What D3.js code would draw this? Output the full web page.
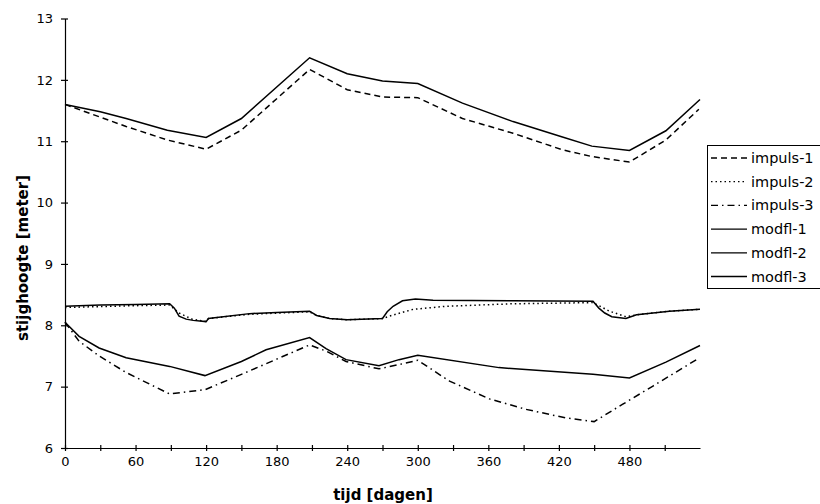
<!DOCTYPE html>
<html>
<head>
<meta charset="utf-8">
<script src="https://cdn.jsdelivr.net/npm/d3@7"></script>
<style>
  body { margin: 0; background: #fff; }
  svg { font-family: "DejaVu Sans", "Liberation Sans", sans-serif; }
  .axis text { font-size: 13px; fill: #000; font-family: "DejaVu Sans", sans-serif; }
  .axis line, .axis path { stroke: #000; stroke-width: 1.2; }
  .title { font-size: 15px; font-weight: bold; }
  .series { fill: none; stroke: #000; stroke-width: 1.5; }
</style>
</head>
<body>
<svg></svg>
<script>
// tick labels
var xTicks = [0, 30, 60, 90, 120, 150, 180, 210, 240, 270, 300, 330, 360, 390, 420, 450, 480, 510];
var yTicks = [6, 7, 8, 9, 10, 11, 12, 13];

// series (dagen / meter)
var impuls1Days = [0, 52, 87, 120, 150, 208, 240, 270, 300, 338, 381, 423, 448, 480, 511, 539];
var impuls1 = [11.60, 11.24, 11.02, 10.87, 11.18, 12.17, 11.84, 11.72, 11.71, 11.37, 11.13, 10.86, 10.75, 10.66, 11.02, 11.52];

var modfl1Days = [0, 30, 52, 87, 120, 150, 208, 240, 270, 300, 338, 381, 423, 448, 480, 511, 540];
var modfl1 = [11.60, 11.48, 11.37, 11.18, 11.06, 11.37, 12.36, 12.10, 11.98, 11.94, 11.62, 11.32, 11.07, 10.92, 10.85, 11.17, 11.68];

var impuls2Days = [0, 60, 89, 97, 108, 120, 122, 157, 208, 214, 225, 240, 270, 276, 296, 324, 380, 449, 463, 477, 486, 514, 540];
var impuls2 = [8.29, 8.32, 8.33, 8.20, 8.10, 8.06, 8.11, 8.18, 8.22, 8.16, 8.11, 8.09, 8.11, 8.15, 8.26, 8.31, 8.35, 8.37, 8.23, 8.14, 8.17, 8.23, 8.26];

var modfl2Days = [0, 30, 60, 89, 93, 97, 103, 109, 120, 122, 157, 180, 208, 214, 225, 240, 270, 274, 279, 287, 298, 313, 380, 449, 454, 459, 465, 477, 486, 514, 540];
var modfl2 = [8.31, 8.33, 8.34, 8.35, 8.28, 8.15, 8.10, 8.08, 8.06, 8.11, 8.19, 8.21, 8.23, 8.16, 8.11, 8.09, 8.11, 8.22, 8.31, 8.40, 8.43, 8.41, 8.40, 8.39, 8.28, 8.20, 8.14, 8.11, 8.17, 8.23, 8.26];

var impuls3Days = [0, 12, 29, 52, 89, 119, 150, 208, 222, 239, 267, 284, 300, 327, 361, 392, 426, 450, 474, 500, 537];
var impuls3 = [8.05, 7.74, 7.50, 7.23, 6.88, 6.95, 7.20, 7.68, 7.58, 7.41, 7.29, 7.36, 7.43, 7.09, 6.80, 6.63, 6.49, 6.43, 6.71, 7.01, 7.44];

var modfl3Days = [0, 12, 29, 52, 89, 119, 150, 171, 208, 222, 239, 267, 284, 300, 369, 449, 480, 511, 540];
var modfl3 = [8.05, 7.82, 7.63, 7.47, 7.33, 7.18, 7.41, 7.60, 7.80, 7.62, 7.44, 7.34, 7.44, 7.51, 7.31, 7.20, 7.14, 7.40, 7.67];

var seriesNames = ["impuls-1", "impuls-2", "impuls-3", "modfl-1", "modfl-2", "modfl-3"];
var dashes = ["6,4", "1.5,3", "7,4,1.5,4", null, null, null];

var margin = {top: 18.5, right: 120, bottom: 56, left: 65},
    width = 700 - margin.left,
    height = 448 - margin.top;

var x = d3.scaleLinear().domain([0, 540]).range([0, width]);
var y = d3.scaleLinear().domain([6, 13]).range([height, 0]);

var svg = d3.select("svg")
    .attr("width", 820)
    .attr("height", 504);

var g = svg.append("g")
    .attr("transform", "translate(" + margin.left + "," + margin.top + ")");

// X axis, ticks every 30 days, labels every 60
var xAxis = d3.axisBottom(x)
    .tickValues(xTicks)
    .tickSizeInner(3)
    .tickSizeOuter(0)
    .tickPadding(6)
    .tickFormat(function(d) { return d % 60 === 0 ? d : ""; });

var gx = g.append("g")
    .attr("class", "axis")
    .attr("transform", "translate(0," + height + ")")
    .call(xAxis);
gx.selectAll(".tick line").attr("y1", -3);

// Y axis
var yAxis = d3.axisLeft(y)
    .tickValues(yTicks)
    .tickSizeInner(4)
    .tickSizeOuter(0)
    .tickPadding(8)
    .tickFormat(d3.format("d"));

var gy = g.append("g")
    .attr("class", "axis")
    .call(yAxis);
gy.selectAll(".tick line").attr("x1", 3);

// axis titles
svg.append("text")
    .attr("class", "title")
    .attr("x", 383)
    .attr("y", 500)
    .style("text-anchor", "middle")
    .text("tijd [dagen]");

svg.append("text")
    .attr("class", "title")
    .attr("transform", "translate(28,258) rotate(-90)")
    .style("text-anchor", "middle")
    .text("stijghoogte [meter]");

// lines
var line = d3.line()
    .x(function(d) { return x(d[0]); })
    .y(function(d) { return y(d[1]); });

var allDays = [impuls1Days, impuls2Days, impuls3Days, modfl1Days, modfl2Days, modfl3Days];
var allVals = [impuls1, impuls2, impuls3, modfl1, modfl2, modfl3];

seriesNames.forEach(function(name, i) {
  var pts = allDays[i].map(function(d, j) { return [d, allVals[i][j]]; });
  g.append("path")
      .datum(pts)
      .attr("class", "series")
      .attr("stroke-dasharray", dashes[i])
      .attr("stroke-width", dashes[i] ? 1.3 : 1.5)
      .attr("d", line);
});

// Legend
var legend = svg.append("g")
    .attr("class", "legend");

legend.append("rect")
    .attr("x", 707.5)
    .attr("y", 145.5)
    .attr("width", 130)
    .attr("height", 143)
    .style("fill", "#fff")
    .style("stroke", "#000")
    .style("stroke-width", 1);

var items = legend.selectAll(".item")
    .data(seriesNames)
    .enter().append("g")
    .attr("class", "item")
    .attr("transform", function(d, i) { return "translate(0," + (158 + i * 23.7) + ")"; });

items.append("line")
    .attr("x1", 711)
    .attr("x2", 747)
    .style("stroke", "#000")
    .style("stroke-width", 1.3)
    .attr("stroke-dasharray", function(d, i) { return dashes[i]; });

items.append("text")
    .attr("x", 751)
    .attr("dy", ".35em")
    .style("font-size", "14.5px")
    .text(function(d) { return d; });
</script>
</body>
</html>
